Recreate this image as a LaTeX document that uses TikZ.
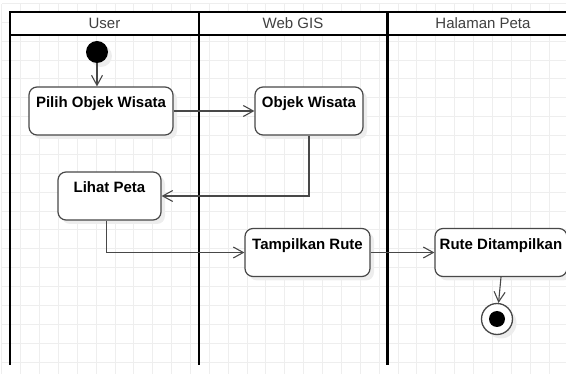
\documentclass[tikz,border=0pt]{standalone}
\usepackage{fontspec}
\setmainfont{Liberation Sans}
\usetikzlibrary{arrows.meta,shadows}

\definecolor{edgegray}{HTML}{484848}
\definecolor{gridgray}{HTML}{EEEEEE}

\begin{document}
\begin{tikzpicture}[x=1pt,y=-1pt,
    act/.style={draw=edgegray, line width=1.2pt, rounded corners=8pt, fill=white,
      font=\fontsize{15}{17}\selectfont\bfseries, text height=17pt, text depth=23pt,
      inner xsep=0pt, inner ysep=4pt,
      drop shadow={shadow xshift=4pt, shadow yshift=-4pt, fill=black!7, opacity=1}},
    flow/.style={draw=edgegray, line width=1.1pt, -{Straight Barb[length=10pt,width=11pt]}},
    lane/.style={line width=2.4pt},
    lanehead/.style={font=\fontsize{15}{17}\selectfont, text=black!75}]
    \useasboundingbox (0,0) rectangle (566,374);

    % background grid
    \foreach \k in {0,...,29}
      \draw[gridgray, line width=1pt] ({1.8+18.87*\k},4) -- ({1.8+18.87*\k},374);
    \foreach \k in {0,...,19}
      \draw[gridgray, line width=1pt] (2,{3.5+18.87*\k}) -- (566,{3.5+18.87*\k});

    % swimlanes
    \fill[white] (10,12) rectangle (580,35);
    \draw[lane] (10,365) -- (10,12) -- (580,12);
    \draw[lane] (10,35) -- (580,35);
    \draw[lane] (199,12) -- (199,365);
    \draw[lane] (387.5,12) -- (387.5,365);
    \node[lanehead] (hUser) at (104.5,23.5) {User};
    \node[lanehead] (hWeb) at (293,23.5) {Web GIS};
    \node[lanehead] (hPeta) at (483,23.5) {Halaman Peta};

    % activities
    \node[circle, fill=black, minimum size=22pt, inner sep=0pt,
      drop shadow={shadow xshift=4pt, shadow yshift=-4pt, fill=black!7, opacity=1}] (start) at (97,52) {};
    \node[act, minimum width=144pt] (pilih) at (101,111) {Pilih Objek Wisata};
    \node[act, minimum width=108pt] (objek) at (309,111) {Objek Wisata};
    \node[act, minimum width=103pt] (lihat) at (109.5,196) {Lihat Peta};
    \node[act, minimum width=125pt] (tampil) at (307.5,252.5) {Tampilkan Rute};
    \node[act, minimum width=132pt] (rute) at (501,252.5) {Rute Ditampilkan};
    \node[circle, draw=edgegray, line width=1.3pt, fill=white, minimum size=31pt, inner sep=0pt,
      drop shadow={shadow xshift=4pt, shadow yshift=-4pt, fill=black!7, opacity=1}] (finish) at (497,319) {};
    \fill[black] (finish.center) circle (8);

    % transitions
    \draw[flow] (start) -- (start |- pilih.north);
    \draw[flow] (pilih) -- (objek);
    \draw[flow] (objek.south) |- (lihat.east);
    \draw[flow] ([xshift=-3pt]lihat.south) |- (tampil.west);
    \draw[flow] (tampil) -- (rute);
    \draw[flow] (rute.south) -- (finish);
\end{tikzpicture}
\end{document}
